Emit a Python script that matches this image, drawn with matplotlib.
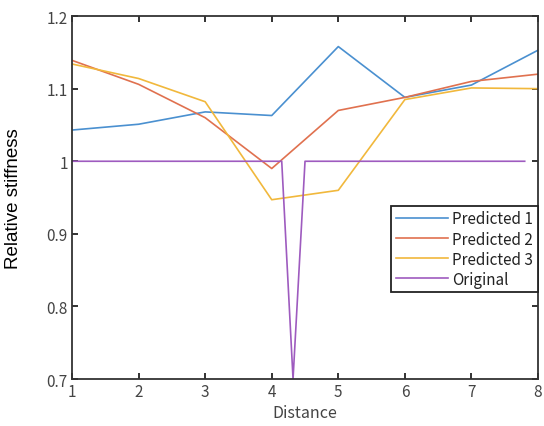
import matplotlib
matplotlib.use("Agg")
import matplotlib.pyplot as plt

distance = [1, 2, 3, 4, 5, 6, 7, 8]
predicted_1 = [1.043, 1.051, 1.068, 1.063, 1.158, 1.088, 1.105, 1.153]
predicted_2 = [1.139, 1.106, 1.060, 0.990, 1.070, 1.088, 1.110, 1.120]
predicted_3 = [1.134, 1.114, 1.082, 0.947, 0.960, 1.085, 1.101, 1.100]
original_x = [1, 4.15, 4.32, 4.50, 7.80]
original_y = [1.0, 1.0, 0.70, 1.0, 1.0]

labels = ["Predicted 1", "Predicted 2", "Predicted 3", "Original"]
colors = ["#4a90d0", "#e0714f", "#f1b83c", "#9e5bbf"]
tick_font = ["Noto Sans CJK JP", "DejaVu Sans"]

fig = plt.figure(figsize=(5.44, 4.27), dpi=100)
ax = fig.add_axes([0.1324, 0.110, 0.8566, 0.850])

ax.plot(distance, predicted_1, color=colors[0], lw=1.2, label=labels[0])
ax.plot(distance, predicted_2, color=colors[1], lw=1.2, label=labels[1])
ax.plot(distance, predicted_3, color=colors[2], lw=1.2, label=labels[2])
ax.plot(original_x, original_y, color=colors[3], lw=1.2, label=labels[3])

ax.set_xlim(1, 8)
ax.set_ylim(0.7, 1.2)
ax.set_xticks(distance)
ax.set_yticks([0.7, 0.8, 0.9, 1.0, 1.1, 1.2])
ax.set_yticklabels(["0.7", "0.8", "0.9", "1", "1.1", "1.2"])

for s in ax.spines.values():
    s.set_linewidth(1.3)
    s.set_color("#333333")
ax.tick_params(direction="in", length=4, width=1.3, top=True, right=True,
               colors="#222222", labelsize=11, labelcolor="#444444", pad=3)
for lab in ax.get_xticklabels() + ax.get_yticklabels():
    lab.set_family(tick_font)

ax.set_ylabel("Relative stiffness", fontsize=13.5, family=["Liberation Sans"], color="black")
ax.yaxis.set_label_coords(-0.108, 0.5)
ax.set_xlabel("Distance", fontsize=11.5, family=tick_font, color="#444444")
ax.xaxis.set_label_coords(0.5, -0.068)

leg = ax.legend(loc="upper right", bbox_to_anchor=(0.999, 0.477), borderaxespad=0,
                fancybox=False, framealpha=1, edgecolor="#222222",
                prop={"family": tick_font, "size": 11},
                handlelength=3.4, handletextpad=0.3, labelspacing=0.2,
                borderpad=0.3)
leg.get_frame().set_linewidth(1.3)
for t in leg.get_texts():
    t.set_color("#222222")

fig.savefig("out.png", dpi=100)
